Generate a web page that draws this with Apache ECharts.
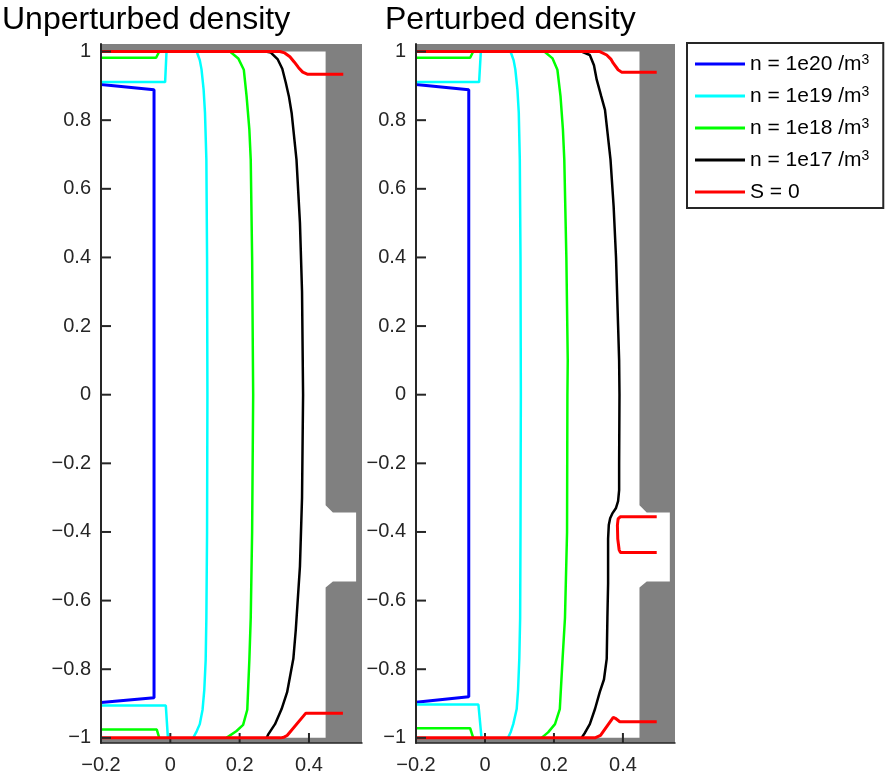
<!DOCTYPE html>
<html>
<head>
<meta charset="utf-8">
<script src="https://cdn.jsdelivr.net/npm/echarts@6/dist/echarts.min.js"></script>
<style>
  html, body { margin: 0; padding: 0; background: #fff; }
  #chart { width: 888px; height: 778px; }
</style>
</head>
<body>
<div id="chart"></div>
<script>
// Axis limits of each panel
const xMin = -0.2;
const xMaxPanels = [0.553, 0.551];
const yMin = -1.015;
const yMax = 1.022;

// Vessel wall (grey): a C-shaped outline wrapping the top, right side (with the port) and bottom
const wallX = [xMin, 'xmax', 'xmax', xMin, xMin, 0.448, 0.448, 0.469, 0.536, 0.536, 0.469, 0.448, 0.448, xMin];
const wallY = [yMax, yMax, yMin, yMin, -1, -1, -0.562, -0.544, -0.544, -0.343, -0.343, -0.322, 1, 1];

// Tick values
const xTicks = [-0.2, 0, 0.2, 0.4];
const yTicks = [-1, -0.8, -0.6, -0.4, -0.2, 0, 0.2, 0.4, 0.6, 0.8, 1];

// Legend names
const levelNames = ['n = 1e20 /m³', 'n = 1e19 /m³', 'n = 1e18 /m³', 'n = 1e17 /m³', 'S = 0'];

// Contour segments [x, y], unperturbed density
const n20Unpert = [
  [[-0.2, 0.904], [-0.047, 0.889], [-0.047, -0.883], [-0.2, -0.897]]
];
const n19Unpert = [
  [[-0.2, 0.911], [-0.015, 0.911], [-0.011, 1.0]],
  [[0.076, 1.0], [0.085, 0.975], [0.090, 0.948], [0.096, 0.89], [0.100, 0.822], [0.104, 0.685], [0.106, 0.4], [0.107, 0],
   [0.106, -0.4], [0.104, -0.65], [0.102, -0.773], [0.098, -0.86], [0.093, -0.918], [0.085, -0.96], [0.076, -0.981], [0.066, -1.0]],
  [[-0.007, -1.0], [-0.013, -0.906], [-0.2, -0.906]]
];
const n18Unpert = [
  [[-0.2, 0.982], [-0.041, 0.982], [-0.032, 1.0]],
  [[0.172, 1.0], [0.196, 0.98], [0.212, 0.947], [0.220, 0.87], [0.228, 0.773], [0.232, 0.685], [0.236, 0.4], [0.239, 0],
   [0.236, -0.4], [0.232, -0.65], [0.228, -0.773], [0.222, -0.918], [0.210, -0.962], [0.191, -0.98], [0.162, -1.0]],
  [[-0.032, -1.0], [-0.039, -0.976], [-0.2, -0.976]]
];
const n17Unpert = [
  [[0.275, 1.0], [0.290, 0.997], [0.310, 0.977], [0.323, 0.95], [0.333, 0.91], [0.342, 0.87], [0.350, 0.821], [0.364, 0.685],
   [0.374, 0.5], [0.380, 0.3], [0.383, 0], [0.380, -0.3], [0.374, -0.5], [0.362, -0.685], [0.355, -0.769], [0.337, -0.867],
   [0.321, -0.916], [0.302, -0.96], [0.283, -0.989], [0.278, -1.0]]
];
const sZeroUnpert = [
  [[-0.2, 1.0], [0.316, 1.0], [0.330, 0.996], [0.345, 0.985], [0.358, 0.969], [0.370, 0.953], [0.382, 0.940], [0.395, 0.934], [0.499, 0.934]],
  [[-0.2, -1.0], [0.318, -1.0], [0.328, -0.998], [0.337, -0.993], [0.391, -0.928], [0.498, -0.928]]
];

// Contour segments [x, y], perturbed density
const n20Pert = [
  [[-0.2, 0.904], [-0.047, 0.889], [-0.047, -0.880], [-0.2, -0.896]]
];
const n19Pert = [
  [[-0.2, 0.911], [-0.017, 0.911], [-0.012, 1.0]],
  [[0.074, 1.0], [0.083, 0.975], [0.088, 0.948], [0.094, 0.89], [0.098, 0.822], [0.101, 0.685], [0.103, 0.4], [0.104, 0],
   [0.103, -0.4], [0.102, -0.65], [0.0995, -0.77], [0.096, -0.86], [0.092, -0.916], [0.082, -0.96], [0.075, -0.982], [0.067, -1.0]],
  [[-0.010, -1.0], [-0.019, -0.903], [-0.2, -0.903]]
];
const n18Pert = [
  [[-0.2, 0.982], [-0.043, 0.982], [-0.034, 1.0]],
  [[0.172, 1.0], [0.196, 0.98], [0.210, 0.947], [0.219, 0.87], [0.226, 0.773], [0.230, 0.685], [0.236, 0.4], [0.240, 0.1], [0.239, 0],
   [0.238, -0.4], [0.232, -0.65], [0.225, -0.77], [0.217, -0.916], [0.203, -0.96], [0.183, -0.984], [0.164, -1.0]],
  [[-0.034, -1.0], [-0.043, -0.972], [-0.2, -0.972]]
];
const n17Pert = [
  [[0.280, 1.0], [0.304, 0.99], [0.316, 0.96], [0.324, 0.918], [0.337, 0.87], [0.348, 0.83], [0.364, 0.685], [0.373, 0.55],
   [0.380, 0.4], [0.386, 0.2], [0.389, 0.1], [0.390, 0], [0.389, -0.2], [0.389, -0.278], [0.386, -0.31], [0.380, -0.33],
   [0.370, -0.345], [0.363, -0.36], [0.359, -0.38], [0.357, -0.42], [0.357, -0.55], [0.355, -0.65], [0.353, -0.77],
   [0.345, -0.83], [0.333, -0.866], [0.319, -0.916], [0.304, -0.96], [0.290, -0.985], [0.280, -1.0]]
];
const sZeroPert = [
  [[-0.2, 1.0], [0.333, 1.0], [0.353, 0.99], [0.365, 0.978], [0.372, 0.966], [0.386, 0.947], [0.396, 0.94], [0.498, 0.94]],
  [[0.498, -0.356], [0.392, -0.356], [0.386, -0.362], [0.384, -0.38], [0.385, -0.42], [0.389, -0.452], [0.393, -0.46], [0.498, -0.46]],
  [[-0.2, -1.0], [0.319, -1.0], [0.335, -0.993], [0.372, -0.94], [0.378, -0.943], [0.391, -0.953], [0.498, -0.953]]
];

const FONT = 'Helvetica, "Liberation Sans", Arial, sans-serif';
const AXIS_COLOR = '#262626';
const WALL_COLOR = '#808080';
const TICK_LEN = 10;
const colors = ['#0000ff', '#00ffff', '#00ff00', '#000000', '#ff0000'];
const widths = [3, 2.5, 2.5, 2.5, 3];

const panels = [
  [n20Unpert, n19Unpert, n18Unpert, n17Unpert, sZeroUnpert],
  [n20Pert, n19Pert, n18Pert, n17Pert, sZeroPert]
];

const fmtTick = v => {
  const r = Math.round(v * 10) / 10;
  return (r < 0 ? '\u2212' : '') + String(Math.abs(r));
};

const xAxes = [0, 1].map(p => ({
  gridIndex: p, type: 'value', min: xMin, max: xMaxPanels[p], z: 20,
  axisLine: { show: true, onZero: false, lineStyle: { color: AXIS_COLOR, width: 1.5 } },
  axisTick: { show: false },
  axisLabel: { customValues: xTicks, formatter: fmtTick, fontSize: 20, color: AXIS_COLOR, fontFamily: FONT, margin: 12 },
  splitLine: { show: false }
}));
const yAxes = [0, 1].map(p => ({
  gridIndex: p, type: 'value', min: yMin, max: yMax, z: 20,
  axisLine: { show: true, onZero: false, lineStyle: { color: AXIS_COLOR, width: 2 } },
  axisTick: { show: false },
  axisLabel: { customValues: yTicks, formatter: fmtTick, fontSize: 20, color: AXIS_COLOR, fontFamily: FONT, margin: 10 },
  splitLine: { show: false }
}));

// Inward-pointing tick marks, placed through the axis scales
function tickSeries(p, values, horizontal, z) {
  return {
    type: 'custom', name: 'ticks', xAxisIndex: p, yAxisIndex: p, silent: true, z: z, clip: false,
    data: values.map(v => horizontal ? [xMin, v] : [v, yMin]),
    renderItem: (params, api) => {
      const v = values[params.dataIndex];
      const pt = horizontal ? api.coord([xMin, v]) : api.coord([v, yMin]);
      const pts = horizontal
        ? [[pt[0], pt[1]], [pt[0] + TICK_LEN, pt[1]]]
        : [[pt[0], pt[1]], [pt[0], pt[1] - TICK_LEN]];
      return {
        type: 'polyline',
        shape: { points: pts },
        style: { stroke: AXIS_COLOR, lineWidth: 2, fill: null }
      };
    }
  };
}

const series = [];
[0, 1].forEach(p => {
  const xMax = xMaxPanels[p];
  series.push({
    type: 'custom', name: 'wall', xAxisIndex: p, yAxisIndex: p, silent: true, z: 1, clip: false,
    data: [[xMin, yMin]],
    renderItem: (params, api) => ({
      type: 'polygon',
      shape: { points: wallX.map((x, i) => api.coord([x === 'xmax' ? xMax : x, wallY[i]])) },
      style: { fill: WALL_COLOR, stroke: null }
    })
  });
  series.push(tickSeries(p, xTicks, false, 2));
  series.push(tickSeries(p, yTicks, true, 12));
  panels[p].forEach((segments, k) => {
    segments.forEach(seg => {
      series.push({
        type: 'line', name: levelNames[k], xAxisIndex: p, yAxisIndex: p,
        data: seg, symbol: 'none', showSymbol: false, silent: true, z: 3 + k,
        color: colors[k], itemStyle: { color: colors[k] },
        lineStyle: { color: colors[k], width: widths[k] }
      });
    });
  });
});

const titleStyle = { fontSize: 32, fontWeight: 'normal', color: '#000', fontFamily: FONT };

const chart = echarts.init(document.getElementById('chart'), null, { renderer: 'canvas' });
chart.setOption({
  animation: false,
  backgroundColor: '#ffffff',
  textStyle: { fontFamily: FONT },
  title: [
    { text: 'Unperturbed density', left: 2, top: 1, padding: [3, 0, 0, 0], textStyle: titleStyle },
    { text: 'Perturbed density', left: 385, top: 1, padding: [3, 0, 0, 0], textStyle: titleStyle }
  ],
  legend: {
    orient: 'vertical', left: 687, top: 43,
    data: levelNames, icon: 'rect', itemWidth: 50, itemHeight: 3, itemGap: 10,
    padding: [10, 14, 5, 8], borderColor: AXIS_COLOR, borderWidth: 2, backgroundColor: '#fff',
    selectedMode: false,
    formatter: name => name.replace('³', '{sup|3}'),
    textStyle: {
      fontSize: 21, color: '#000', fontFamily: FONT, lineHeight: 22,
      rich: { sup: { fontSize: 14, verticalAlign: 'top', lineHeight: 14, color: '#000', fontFamily: FONT } }
    }
  },
  grid: [
    { left: 101, top: 44, width: 261, height: 699, show: false },
    { left: 416, top: 44, width: 259, height: 699, show: false }
  ],
  xAxis: xAxes,
  yAxis: yAxes,
  series: series
});
</script>
</body>
</html>
